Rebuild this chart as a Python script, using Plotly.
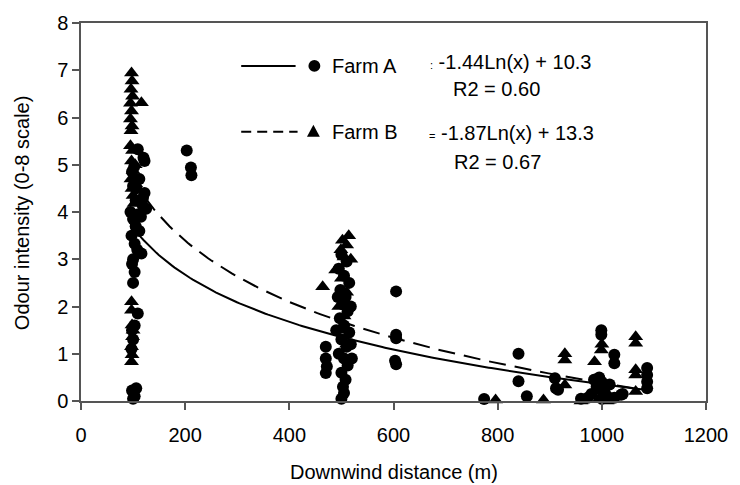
import numpy as np
import plotly.graph_objects as go

# ---------------- data ----------------
farm_a_x = [100, 103, 100, 106, 98, 97, 100, 98, 103, 109,
            100, 103, 98, 100, 116, 103, 97, 105, 100, 110,
            125, 118, 105, 122, 100, 112, 98, 122, 120, 109, 95, 108,
            112, 106, 115, 102, 119,
            203, 211, 212,
            500, 510, 495, 505, 515, 498, 508, 502, 512, 497, 505, 515, 500, 510,
            495, 505, 512, 500, 508, 503, 505, 500, 490, 493, 518, 518, 520,
            470, 470, 472, 470,
            605, 605, 605, 603, 605,
            774, 840, 840, 856, 910, 912, 916,
            960, 973, 980, 990, 995, 1000, 1005, 1000, 999, 999, 1010, 985, 1015,
            1024, 1024, 1024, 1037, 1040,
            1087, 1087, 1087, 1087]
farm_a_y = [0.05, 0.1, 0.2, 0.27, 0.22, 1.1, 1.3, 1.5, 1.6, 1.85,
            2.5, 2.73, 2.9, 3.0, 3.12, 3.33, 3.5, 3.7, 3.85, 3.95,
            4.07, 4.15, 4.25, 4.4, 4.55, 4.7, 4.85, 5.08, 5.15, 5.33, 4.0, 3.2,
            3.6, 4.5, 3.9, 4.95, 4.3,
            5.3, 4.94, 4.78,
            3.1, 2.95, 2.8, 2.65, 2.5, 2.35, 2.2, 2.05, 1.9, 1.75, 1.6, 1.45, 1.3, 1.15,
            1.0, 0.9, 0.75, 0.6, 0.45, 0.3, 0.17, 0.05, 1.5, 2.2, 2.0, 1.2, 0.9,
            1.15, 0.9, 0.73, 0.59,
            2.32, 1.4, 1.33, 0.85, 0.78,
            0.04, 1.0, 0.42, 0.1, 0.48, 0.27, 0.24,
            0.05, 0.07, 0.15, 0.3, 0.5, 0.4, 0.2, 0.05, 1.5, 1.4, 0.1, 0.45, 0.35,
            0.98, 0.8, 0.07, 0.13, 0.15,
            0.7, 0.55, 0.41, 0.27]

farm_b_x = [97, 98, 96, 99, 95, 116, 97, 95, 98, 96, 95, 99, 97, 100, 96, 98, 100, 102, 105, 104,
            97, 97, 98, 100, 99, 97, 98, 97,
            514, 502, 510, 499, 518, 505, 489, 464, 500, 510, 495, 505, 500, 510,
            796, 888, 929, 929, 929, 986, 999, 1000, 990, 1000, 995, 1005, 1010, 960,
            1065, 1065, 1065, 1065, 1065]
farm_b_y = [6.94, 6.77, 6.6, 6.45, 6.3, 6.31, 6.14, 5.97, 5.82, 5.72, 5.4, 5.3, 5.08, 4.88, 4.7, 4.5, 4.35, 4.18, 4.6, 5.0,
            2.1, 1.92, 1.61, 1.5, 1.36, 1.15, 0.98, 0.83,
            3.5, 3.4, 3.3, 3.2, 3.0, 3.05, 2.77, 2.42, 2.6, 2.3, 2.0, 1.8, 1.5, 1.2,
            0.02, 0.02, 1.0, 0.87, 0.34, 0.83, 1.08, 1.2, 0.2, 0.1, 0.05, 0.3, 0.0, 0.0,
            1.36, 1.22, 0.66, 0.55, 0.2]

# log trendline coefficients shown on the chart: y = a*ln(x) + b
trend_a = (-1.44, 10.3)
trend_b = (-1.87, 13.3)
trend_range = (95, 1087)

x_ticks = [0, 200, 400, 600, 800, 1000, 1200]
y_ticks = [0, 1, 2, 3, 4, 5, 6, 7, 8]

# ---------------- figure ----------------
W, H = 740, 485
# plot area in pixels: x 81..713, y 22..401
PX0, PX1, PY0, PY1 = 81, 713, 22, 401
ML, MR, MT, MB = PX0, W - PX1, PY0, H - PY1
PW, PH = PX1 - PX0, PY1 - PY0

def px(x):   # pixel -> paper
    return (x - PX0) / PW

def py(y):
    return (PY1 - y) / PH

FONT = "Liberation Sans, Arial, sans-serif"

fig = go.Figure()
fig.add_trace(go.Scatter(x=farm_a_x, y=farm_a_y, mode="markers", name="Farm A",
                         marker=dict(symbol="circle", size=12, color="black"),
                         showlegend=False, cliponaxis=False))
fig.add_trace(go.Scatter(x=farm_b_x, y=farm_b_y, mode="markers", name="Farm B",
                         marker=dict(symbol="triangle-up", size=13, color="black"),
                         showlegend=False, cliponaxis=False))

xs = np.linspace(trend_range[0], trend_range[1], 200)
fig.add_trace(go.Scatter(x=xs, y=trend_a[0] * np.log(xs) + trend_a[1], mode="lines",
                         line=dict(color="black", width=2), showlegend=False))
fig.add_trace(go.Scatter(x=xs, y=trend_b[0] * np.log(xs) + trend_b[1], mode="lines",
                         line=dict(color="black", width=2, dash="17px,9px"), showlegend=False))

shapes = []
# legend glyphs (layout decoration)
shapes.append(dict(type="line", xref="paper", yref="paper", x0=px(243), x1=px(298),
                   y0=py(65), y1=py(65), line=dict(color="black", width=2)))
shapes.append(dict(type="circle", xref="paper", yref="paper", x0=px(311), x1=px(323),
                   y0=py(71), y1=py(59), fillcolor="black", line=dict(color="black", width=0)))
shapes.append(dict(type="line", xref="paper", yref="paper", x0=px(243), x1=px(300),
                   y0=py(131), y1=py(131), line=dict(color="black", width=2, dash="10px,6px")))
shapes.append(dict(type="path", xref="paper", yref="paper",
                   path=f"M {px(309.5)} {py(136)} L {px(322.5)} {py(136)} L {px(316)} {py(124)} Z",
                   fillcolor="black", line=dict(color="black", width=0)))
fig.update_layout(shapes=shapes)

ann = []
def txt(x, y, s, anchor="left", size=20, angle=0):
    ann.append(dict(xref="paper", yref="paper", x=px(x), y=py(y), text=s, showarrow=False,
                    xanchor=anchor, yanchor="middle", textangle=angle,
                    font=dict(family=FONT, size=size, color="black")))

txt(333, 65, "Farm A")
txt(333, 131, "Farm B")
txt(516, 61, "<span style='font-size:11px'>:</span> -1.44Ln(x) + 10.3", anchor="center")
txt(501, 88, "R2 = 0.60", anchor="center")
txt(516, 132, "<span style='font-size:11px'>=</span> -1.87Ln(x) + 13.3", anchor="center")
txt(502, 161, "R2 = 0.67", anchor="center")
txt(397, 472, "Downwind distance (m)", anchor="center")
txt(22, 212, "Odour intensity (0-8 scale)", anchor="center", angle=-90)
fig.update_layout(annotations=ann)

fig.update_layout(
    width=W, height=H,
    margin=dict(l=ML, r=MR, t=MT, b=MB, pad=0),
    paper_bgcolor="white", plot_bgcolor="white",
    font=dict(family=FONT, size=20, color="black"),
    xaxis=dict(range=[0, 1200], tickvals=x_ticks, ticktext=[str(v) for v in x_ticks],
               showgrid=False, zeroline=False, showline=True, linecolor="#555", linewidth=1.5,
               mirror=True, ticks="outside", ticklen=7, tickcolor="#555", tickwidth=1.5,
               ticklabelstandoff=8,
               tickfont=dict(family=FONT, size=20, color="black")),
    yaxis=dict(range=[0, 8], tickvals=y_ticks, ticktext=[str(v) for v in y_ticks],
               showgrid=False, zeroline=False, showline=True, linecolor="#555", linewidth=1.5,
               mirror=True, ticks="outside", ticklen=7, tickcolor="#555", tickwidth=1.5,
               tickfont=dict(family=FONT, size=20, color="black")),
)

fig.write_html("out.html", config={"displayModeBar": False},
               post_script="document.body.style.margin='0';document.body.style.overflow='hidden';")
